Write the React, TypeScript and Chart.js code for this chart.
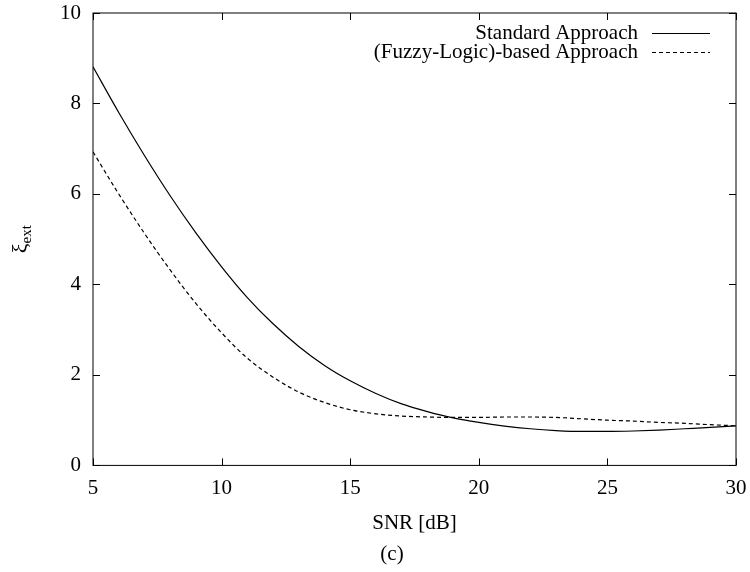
import React, { useEffect, useRef } from "react";
import { Chart, registerables } from "chart.js";

Chart.register(...registerables);

const snr = [5, 6, 7, 8, 9, 10, 11, 12, 13, 14, 15, 16, 17, 18, 19, 20, 21, 22, 23, 24, 25, 26, 27, 28, 29, 30];
const standardApproach = [8.81, 7.8, 6.85, 5.96, 5.14, 4.39, 3.71, 3.13, 2.63, 2.21, 1.87, 1.59, 1.36, 1.19, 1.05, 0.95, 0.87, 0.81, 0.77, 0.75, 0.75, 0.76, 0.78, 0.81, 0.84, 0.875];
const fuzzyApproach = [6.93, 6.0, 5.13, 4.32, 3.58, 2.93, 2.37, 1.95, 1.62, 1.39, 1.23, 1.14, 1.09, 1.07, 1.06, 1.06, 1.07, 1.07, 1.06, 1.03, 1.0, 0.98, 0.95, 0.93, 0.9, 0.875];
const seriesLabels = ["Standard Approach", "(Fuzzy-Logic)-based Approach"];
const xTicks = [5, 10, 15, 20, 25, 30];
const yTicks = [0, 2, 4, 6, 8, 10];
const xTitle = "SNR [dB]";
const yTitleMain = "ξ";
const yTitleSub = "ext";
const caption = "(c)";

const FONT = "'Liberation Serif', 'Times New Roman', serif";

const framePlugin = {
  id: "frameTicks",
  afterDatasetsDraw(chart: any) {
    const { ctx, chartArea: a, scales } = chart;
    ctx.save();
    ctx.strokeStyle = "#000";
    ctx.lineWidth = 1;
    ctx.strokeRect(a.left, a.top, a.right - a.left, a.bottom - a.top);
    const len = 7;
    ctx.beginPath();
    for (const v of xTicks) {
      const px = Math.round(scales.x.getPixelForValue(v)) + 0.5;
      ctx.moveTo(px, a.bottom);
      ctx.lineTo(px, a.bottom - len);
      ctx.moveTo(px, a.top);
      ctx.lineTo(px, a.top + len);
    }
    for (const v of yTicks) {
      const py = Math.round(scales.y.getPixelForValue(v)) + 0.5;
      ctx.moveTo(a.left, py);
      ctx.lineTo(a.left + len, py);
      ctx.moveTo(a.right, py);
      ctx.lineTo(a.right - len, py);
    }
    ctx.stroke();

    // legend (text left of sample, right aligned), inside the top-right
    chart.data.datasets.forEach((ds: any, i: number) => {
      const y = a.top + 20 + i * 19;
      ctx.font = `21px ${FONT}`;
      ctx.fillStyle = "#000";
      ctx.textAlign = "right";
      ctx.textBaseline = "middle";
      ctx.fillText(ds.label, a.right - 98, y);
      ctx.beginPath();
      ctx.setLineDash(ds.borderDash || []);
      ctx.lineWidth = ds.borderWidth;
      ctx.moveTo(a.right - 84, y + 0.5);
      ctx.lineTo(a.right - 26, y + 0.5);
      ctx.stroke();
      ctx.setLineDash([]);
    });

    // y title with subscript, rotated
    const cy = (a.top + a.bottom) / 2;
    ctx.translate(27, cy);
    ctx.rotate(-Math.PI / 2);
    ctx.textAlign = "left";
    ctx.textBaseline = "alphabetic";
    ctx.font = `22px ${FONT}`;
    const wMain = ctx.measureText(yTitleMain).width;
    ctx.font = `15px ${FONT}`;
    const wSub = ctx.measureText(yTitleSub).width;
    const start = -(wMain + wSub) / 2;
    ctx.font = `22px ${FONT}`;
    ctx.fillText(yTitleMain, start, 0);
    ctx.font = `15px ${FONT}`;
    ctx.fillText(yTitleSub, start + wMain, 4);
    ctx.restore();
  },
};

export default function App() {
  const ref = useRef<HTMLCanvasElement>(null);
  useEffect(() => {
    if (!ref.current) return;
    const chart = new Chart(ref.current, {
      type: "line",
      data: {
        datasets: [
          {
            label: seriesLabels[0],
            data: snr.map((x, i) => ({ x, y: standardApproach[i] })),
            borderColor: "#000",
            borderWidth: 1.2,
            pointRadius: 0,
            cubicInterpolationMode: "monotone",
            fill: false,
          },
          {
            label: seriesLabels[1],
            data: snr.map((x, i) => ({ x, y: fuzzyApproach[i] })),
            borderColor: "#000",
            borderWidth: 1.2,
            borderDash: [4, 3],
            pointRadius: 0,
            cubicInterpolationMode: "monotone",
            fill: false,
          },
        ],
      },
      options: {
        animation: false,
        responsive: true,
        maintainAspectRatio: false,
        layout: { padding: { left: 48, right: 14, top: 13, bottom: 0 } },
        plugins: {
          legend: { display: false },
          tooltip: { enabled: false },
          title: {
            display: true,
            text: caption,
            position: "bottom",
            color: "#000",
            font: { family: FONT, size: 21, weight: "normal" },
            padding: { top: 6, bottom: 5 },
          },
        },
        scales: {
          x: {
            type: "linear",
            min: 5,
            max: 30,
            afterBuildTicks: (s: any) => {
              s.ticks = xTicks.map((v) => ({ value: v }));
            },
            afterFit: (s: any) => {
              s.paddingLeft = 0;
              s.paddingRight = 0;
            },
            grid: { display: false, drawTicks: false },
            border: { display: false },
            ticks: { color: "#000", padding: 10, maxRotation: 0, font: { family: FONT, size: 21 } },
            title: {
              display: true,
              text: xTitle,
              color: "#000",
              font: { family: FONT, size: 21 },
              padding: { top: 0, bottom: 0 },
            },
          },
          y: {
            type: "linear",
            min: 0,
            max: 10,
            afterBuildTicks: (s: any) => {
              s.ticks = yTicks.map((v) => ({ value: v }));
            },
            afterFit: (s: any) => {
              s.paddingTop = 0;
              s.paddingBottom = 0;
            },
            grid: { display: false, drawTicks: false },
            border: { display: false },
            ticks: { color: "#000", padding: 12, font: { family: FONT, size: 21 } },
          },
        },
      },
      plugins: [framePlugin],
    });
    return () => chart.destroy();
  }, []);
  return (
    <div style={{ position: "absolute", left: 0, top: 0, width: 750, height: 572, background: "#fff" }}>
      <canvas ref={ref} />
    </div>
  );
}
